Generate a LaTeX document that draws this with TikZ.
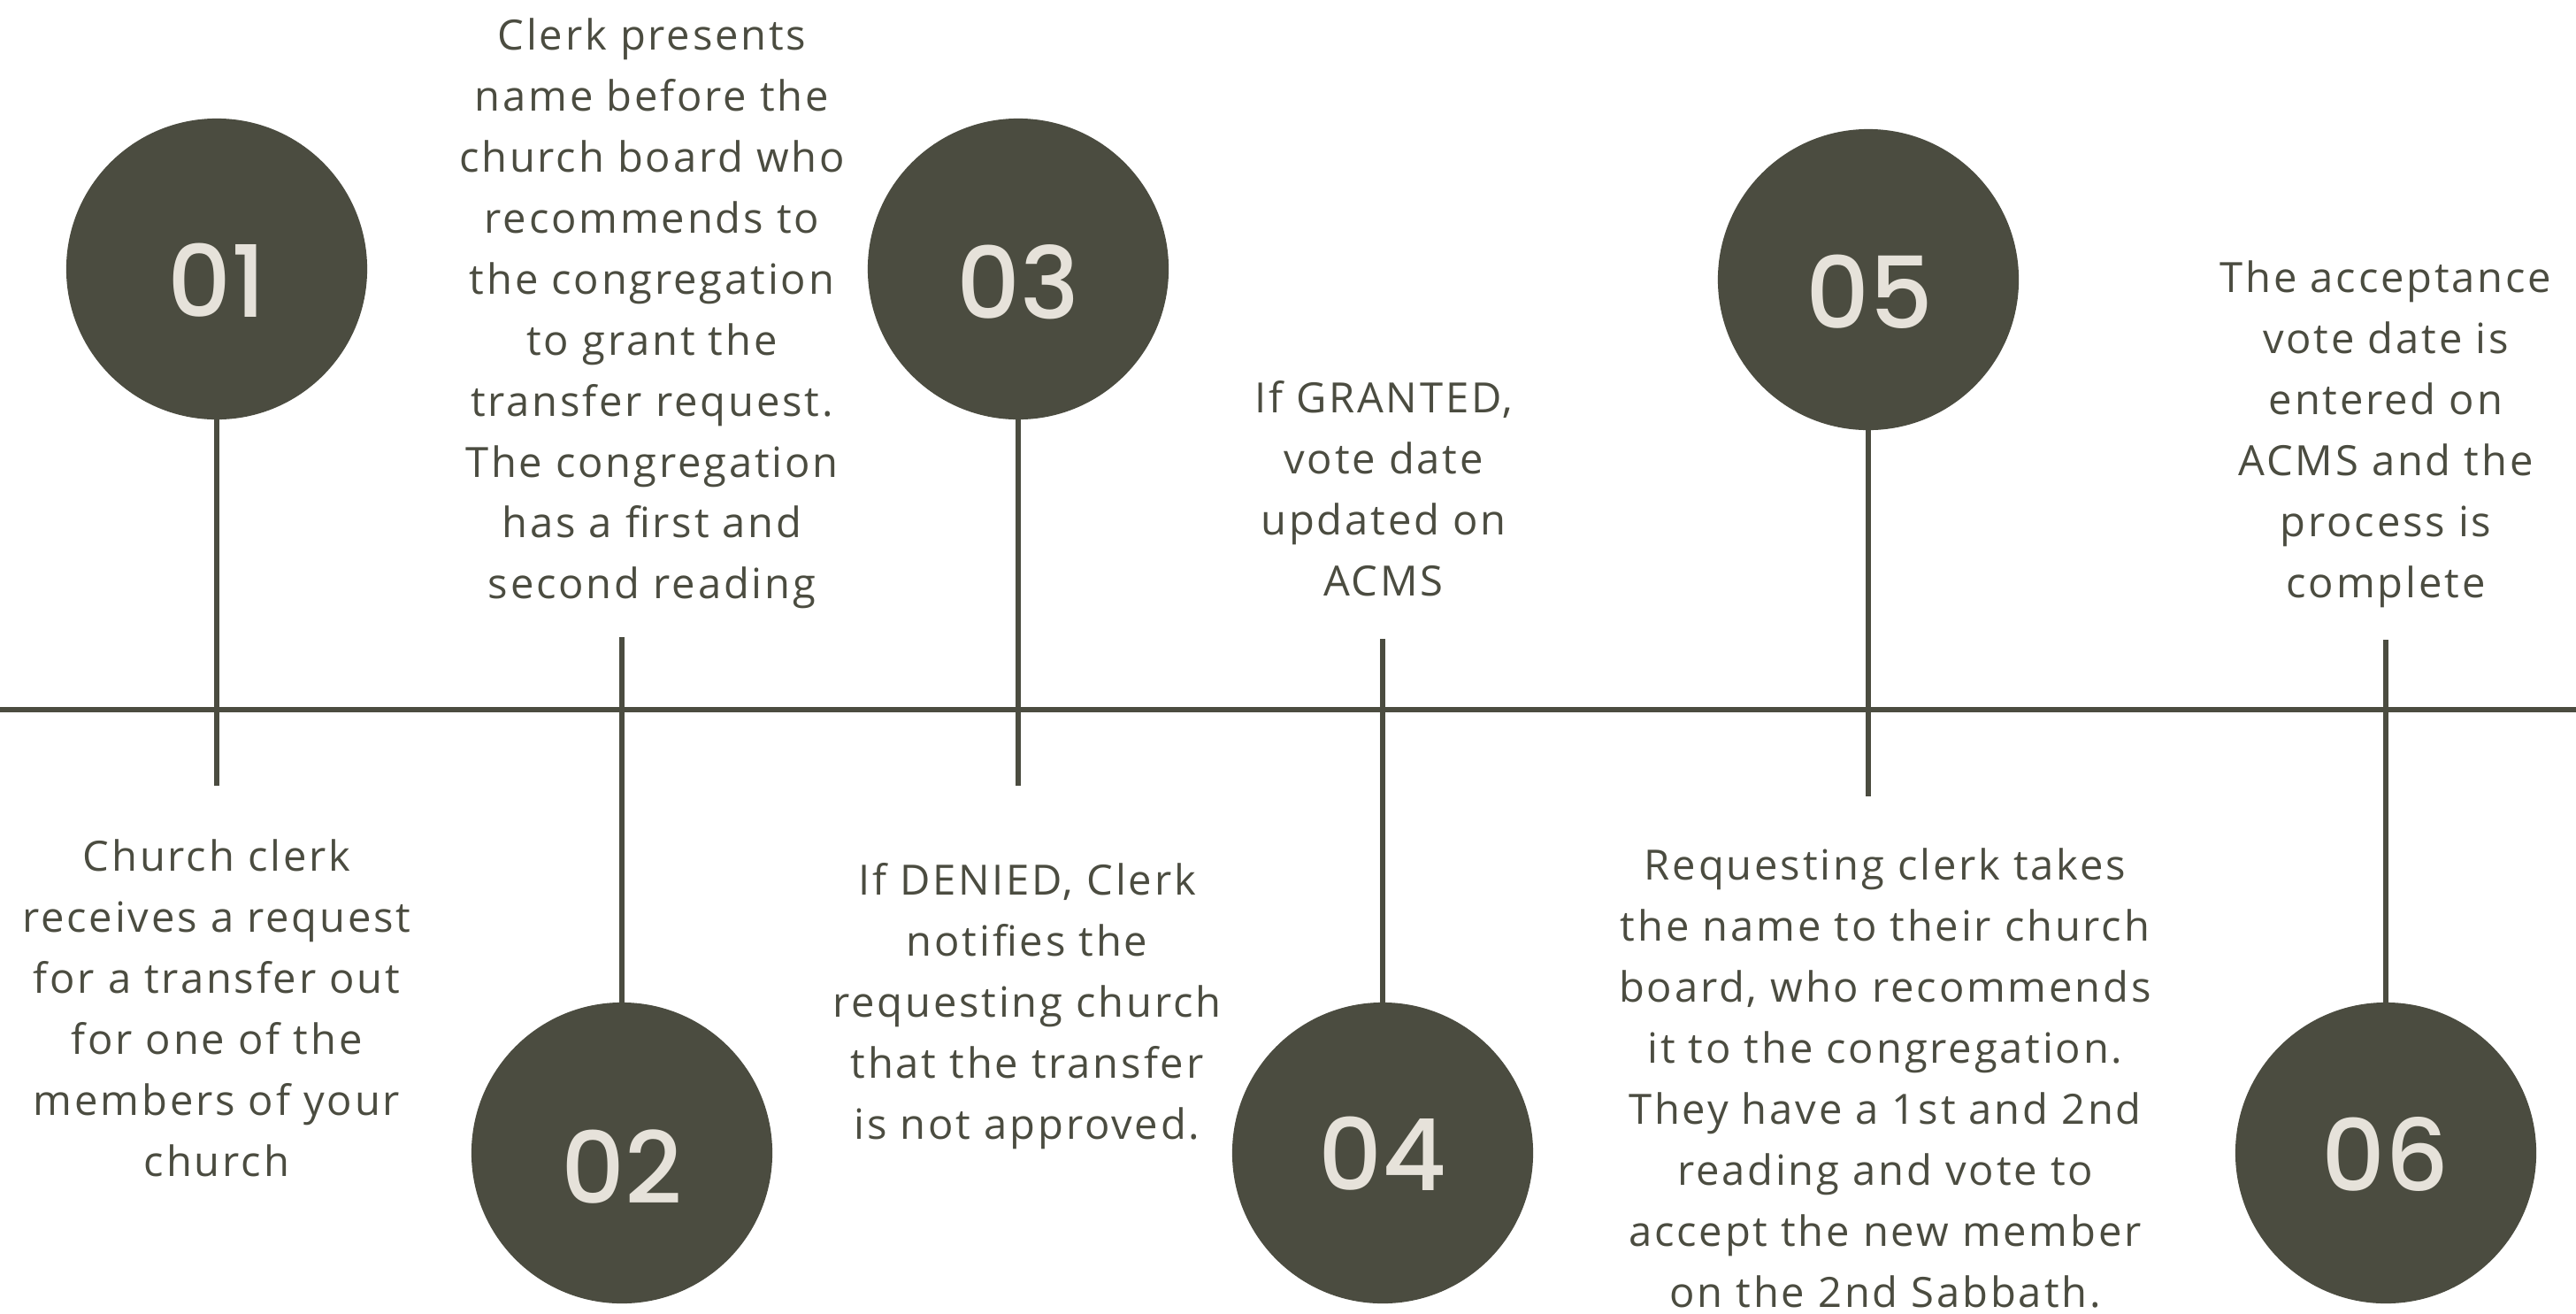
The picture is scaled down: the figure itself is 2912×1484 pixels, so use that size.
\documentclass[tikz,border=0pt]{standalone}
\usepackage{fontspec}
\setmainfont{Open Sans}[LetterSpace=6]
\IfFontExistsTF{Poppins Medium}
  {\newfontfamily\numfont{Poppins Medium}}
  {\IfFontExistsTF{Poppins SemiBold}
    {\newfontfamily\numfont{Poppins SemiBold}}
    {\newfontfamily\numfont{Poppins}[FakeBold=1.2]}}
\usepackage{tikz}
\usetikzlibrary{positioning}
\definecolor{darkolive}{RGB}{75,76,64}
\definecolor{cream}{RGB}{230,226,218}
\tikzset{
  stepdot/.style  = {circle, fill=darkolive, minimum size=3.4cm,
                     inner sep=0pt, outer sep=0pt},
  stepnum/.style  = {text=cream, inner sep=0pt,
                     font=\numfont\fontsize{32pt}{32pt}\selectfont},
  steptext/.style = {align=center, anchor=north, inner sep=0pt, text=darkolive,
                     font=\fontsize{13.4pt}{19.6pt}\selectfont},
  timeline/.style = {draw=darkolive, line width=0.06cm},
  stem/.style     = {draw=darkolive, line width=0.065cm}
}

\begin{document}
\begin{tikzpicture}[x=0.01cm, y=-0.01cm]

\path[fill=white, use as bounding box] (0,0) rectangle (2912,1484);

% the main line
\coordinate (left)  at (0,802);
\coordinate (right) at (2912,802);
\draw[timeline] (left) -- (right);

% circles
\node (c1) [stepdot] at (245,304)  {};
\node (c2) [stepdot] at (703,1303) {};
\node (c3) [stepdot] at (1151,304) {};
\node (c4) [stepdot] at (1563,1303) {};
\node (c5) [stepdot] at (2112,316) {};
\node (c6) [stepdot] at (2697,1303) {};

\node (n1) [stepnum] at (245,317)   {01};
\node (n2) [stepnum] at (703,1319)  {02};
\node (n3) [stepnum] at (1151,319)  {03};
\node (n4) [stepnum] at (1563,1304) {04};
\node (n5) [stepnum] at (2113,330)  {05};
\node (n6) [stepnum] at (2697,1304) {06};

% stems
\coordinate (s1) at (245,888);
\coordinate (s2) at (703,720);
\coordinate (s3) at (1151,888);
\coordinate (s4) at (1563,722);
\coordinate (s5) at (2112,900);
\coordinate (s6) at (2697,723);

\draw[stem] (c1.south) -- (s1);
\draw[stem] (s2) -- (c2.north);
\draw[stem] (c3.south) -- (s3);
\draw[stem] (s4) -- (c4.north);
\draw[stem] (c5.south) -- (s5);
\draw[stem] (s6) -- (c6.north);

% texts
\node (t1) [steptext] at (245,948) {Church clerk\\receives a request\\for a transfer out\\for one of the\\members of your\\church};
\node (t2) [steptext] at (737,20) {Clerk presents\\name before the\\church board who\\recommends to\\the congregation\\to grant the\\transfer request.\\The congregation\\has a first and\\second reading};
\node (t3) [steptext] at (1161,975) {If DENIED, Clerk\\notifies the\\requesting church\\that the transfer\\is not approved.};
\node (t4) [steptext] at (1564,430) {If GRANTED,\\vote date\\updated on\\ACMS};
\node (t5) [steptext] at (2131,958) {Requesting clerk takes\\the name to their church\\board, who recommends\\it to the congregation.\\They have a 1st and 2nd\\reading and vote to\\accept the new member\\on the 2nd Sabbath.};
\node (t6) [steptext] at (2697,294) {The acceptance\\vote date is\\entered on\\ACMS and the\\process is\\complete};

\end{tikzpicture}
\end{document}
